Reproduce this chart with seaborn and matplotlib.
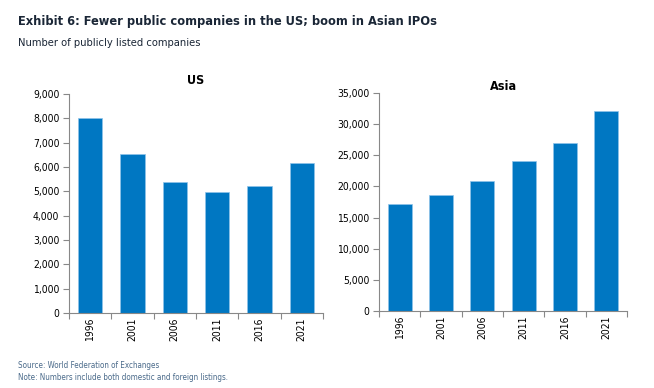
import matplotlib
matplotlib.use("Agg")
import matplotlib.pyplot as plt
import seaborn as sns
import pandas as pd
import numpy as np
from matplotlib.ticker import FuncFormatter, FixedLocator

years = ["1996", "2001", "2006", "2011", "2016", "2021"]
us_values = [8000, 6520, 5390, 4980, 5200, 6180]
asia_values = [17150, 18650, 20900, 24160, 26940, 32180]

sns.set_theme(style="white")
plt.rcParams['font.family'] = ['DejaVu Sans']
plt.rcParams['font.stretch'] = 'condensed'

BLUE = "#0077C2"
fig = plt.figure(figsize=(6.54, 3.88), dpi=100)

def panel(rect, vals, title, ymax, step, title_y):
    ax = fig.add_axes(rect)
    df = pd.DataFrame({"year": years, "val": vals})
    sns.barplot(data=df, x="year", y="val", color=BLUE, width=0.58, ax=ax, saturation=1,
                edgecolor="#8fc3ea", linewidth=0.5)
    ax.set_xlim(-0.5, 5.5)
    ax.set_ylim(0, ymax)
    ax.set_yticks(np.arange(0, ymax + 1, step))
    ax.yaxis.set_major_formatter(FuncFormatter(lambda v, p: f"{int(v):,}"))
    ax.set_xlabel("")
    ax.set_ylabel("")
    ax.xaxis.set_minor_locator(FixedLocator(np.arange(-0.5, 6.0, 1.0)))
    ax.tick_params(axis="x", which="major", length=0, labelsize=7.5, rotation=90, pad=3)
    ax.tick_params(axis="x", which="minor", length=4, width=0.8, color="#888888", bottom=True)
    ax.tick_params(axis="y", which="major", length=4, width=0.8, color="#888888", left=True, labelsize=7.5, pad=3)
    for lbl in ax.get_xticklabels() + ax.get_yticklabels():
        lbl.set_color("black")
    for s in ["top", "right"]:
        ax.spines[s].set_visible(False)
    for s in ["left", "bottom"]:
        ax.spines[s].set_color("#888888")
        ax.spines[s].set_linewidth(0.8)
    ax.text(0.5, title_y, title, transform=ax.transAxes, ha="center", va="bottom",
            fontsize=9, fontweight="bold", color="black")
    return ax

panel([69/654, 1 - 313/388, (323-69)/654, (313-94)/388], us_values, "US", 9000, 1000, 1.03)
panel([379/654, 1 - 311/388, (627-379)/654, (311-93)/388], asia_values, "Asia", 35000, 5000, 1.0)

fig.text(18/654, 1 - 21/388, "Exhibit 6: Fewer public companies in the US; boom in Asian IPOs",
         fontsize=9.2, fontweight="bold", color="#1a2636", va="center", ha="left")
fig.text(18/654, 1 - 43/388, "Number of publicly listed companies",
         fontsize=8, color="#1a2636", va="center", ha="left")
fig.text(18/654, 1 - 365/388, "Source: World Federation of Exchanges",
         fontsize=5.8, color="#4a6a8a", va="center", ha="left")
fig.text(18/654, 1 - 378/388, "Note: Numbers include both domestic and foreign listings.",
         fontsize=5.8, color="#4a6a8a", va="center", ha="left")

fig.savefig("out.png", dpi=100)
